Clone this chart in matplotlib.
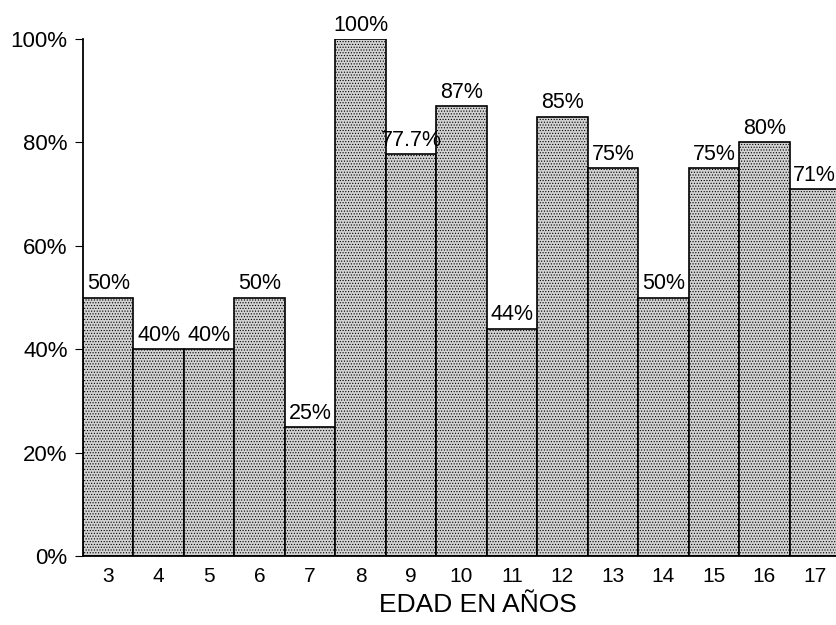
import matplotlib.pyplot as plt
import numpy as np

# datos
edades = [3, 4, 5, 6, 7, 8, 9, 10, 11, 12, 13, 14, 15, 16, 17]
porcentajes = [50, 40, 40, 50, 25, 100, 77.7, 87, 44, 85, 75, 50, 75, 80, 71]
etiquetas = ["50%", "40%", "40%", "50%", "25%", "100%", "77.7%", "87%",
             "44%", "85%", "75%", "50%", "75%", "80%", "71%"]
ticks_y = [0, 20, 40, 60, 80, 100]

plt.rcParams['font.family'] = ['Liberation Sans', 'DejaVu Sans']
plt.rcParams['hatch.color'] = '#6a6a6a'
plt.rcParams['hatch.linewidth'] = 0.5

fig = plt.figure(figsize=(8.36, 6.25), dpi=100)
ax = fig.add_axes([83/836, 69/625, 757/836, 517/625])

ax.bar(edades, porcentajes, width=1.0, color='#d2d2d2', edgecolor='black',
       linewidth=1.2, hatch='......', zorder=2)

for x, y, t in zip(edades, porcentajes, etiquetas):
    ax.text(x, y + 0.6, t, ha='center', va='bottom', fontsize=15.5, clip_on=False)

ax.set_xlim(2.5, 17.5)
ax.set_ylim(0, 100)
ax.set_xticks(edades)
ax.set_xticklabels([str(e) for e in edades], fontsize=15)
ax.set_yticks(ticks_y)
ax.set_yticklabels([f"{v}%" for v in ticks_y], fontsize=16)
ax.tick_params(axis='x', direction='in', length=5, pad=8)
ax.tick_params(axis='y', direction='out', length=6, pad=5)

ax.spines['top'].set_visible(False)
ax.spines['right'].set_visible(False)
ax.spines['left'].set_linewidth(1.3)
ax.spines['bottom'].set_linewidth(1.3)

ax.set_xlabel("EDAD EN AÑOS", fontsize=19)
ax.xaxis.set_label_coords((478 - 83) / 757, -0.072)

fig.savefig("out.png", dpi=100)
